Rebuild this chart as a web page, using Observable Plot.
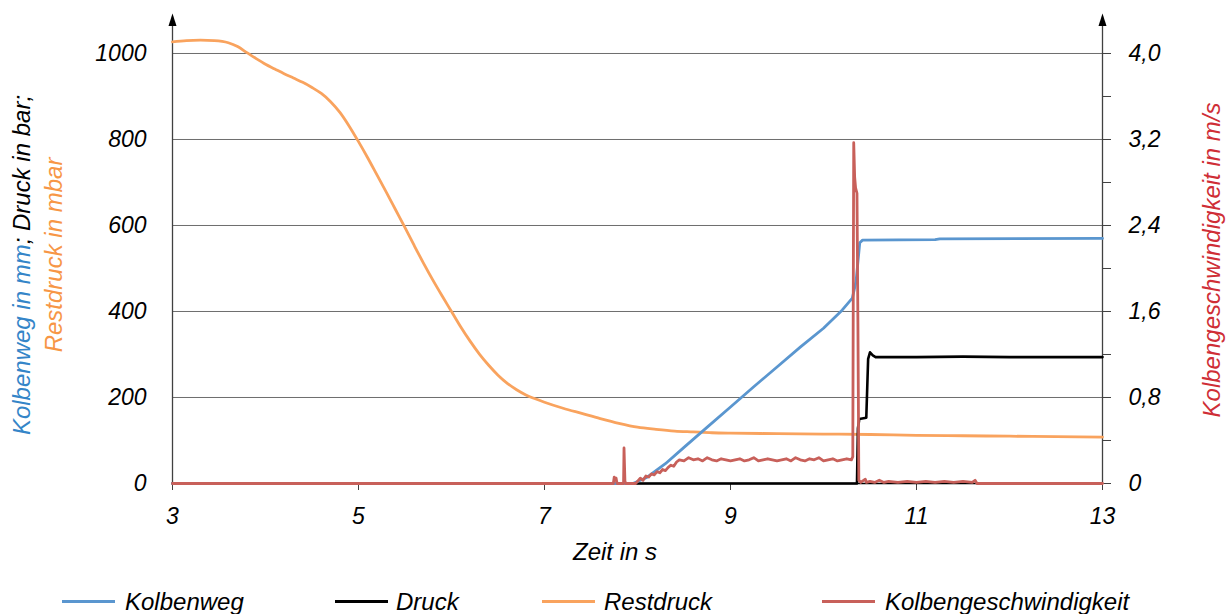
<!DOCTYPE html>
<html>
<head>
<meta charset="utf-8">
<script src="https://cdn.jsdelivr.net/npm/d3@7"></script>
<script src="https://cdn.jsdelivr.net/npm/@observablehq/plot@0.6"></script>
<style>
  body { margin: 0; background: #fff; }
  #wrap { position: relative; width: 1230px; height: 614px; font-family: "Liberation Sans", Arial, sans-serif; font-style: italic; }
  #chart { position: absolute; left: 0; top: 0; }
  .lg-line { position: absolute; height: 3px; top: 600px; }
  .lg-text { position: absolute; top: 589px; font-size: 24px; line-height: 26px; color: #000; white-space: nowrap; }
</style>
</head>
<body>
<div id="wrap">
  <div id="chart"></div>
  <div id="legend"></div>
</div>
<script>
// ---------- data ----------
const seriesNames = ["Kolbenweg", "Druck", "Restdruck", "Kolbengeschwindigkeit"];

// x ticks (Zeit in s)
const xTicks = [3, 5, 7, 9, 11, 13];
// left axis ticks (mm / bar / mbar)
const leftTicks = [0, 200, 400, 600, 800, 1000];
// right axis ticks (m/s)
const rightTicks = [0, 0.8, 1.6, 2.4, 3.2, 4.0];
const rightMinorTicks = [0.4, 1.2, 2.0, 2.8, 3.6];

// Restdruck in mbar
const restT = [3.0, 3.15, 3.3, 3.45, 3.6, 3.7, 3.8, 3.9, 4.0, 4.1, 4.2, 4.3, 4.4, 4.5, 4.6, 4.7, 4.8, 4.9, 5.0, 5.1, 5.2, 5.3, 5.4, 5.5, 5.6, 5.7, 5.8, 5.9, 6.0, 6.1, 6.2, 6.3, 6.4, 6.5, 6.6, 6.7, 6.8, 6.9, 7.0, 7.2, 7.4, 7.6, 7.8, 8.0, 8.2, 8.4, 8.6, 8.8, 9.0, 9.5, 10.0, 10.5, 11.0, 11.5, 12.0, 12.5, 13.0];
const restV = [1027, 1030, 1031, 1030, 1025, 1016, 1002, 988, 975, 964, 953, 943, 933, 921, 907, 888, 863, 831, 795, 757, 717, 677, 636, 595, 553, 512, 473, 436, 400, 364, 331, 301, 275, 252, 233, 218, 206, 197, 189, 175, 163, 151, 140, 131, 126, 122, 120, 118, 117, 116, 115, 114, 112, 111, 110, 109, 108];

// Kolbenweg in mm
const wegT = [3.0, 7.95, 8.1, 8.3, 8.5, 8.75, 9.0, 9.25, 9.5, 9.75, 10.0, 10.2, 10.31, 10.35, 10.39, 10.42, 11.2, 11.25, 13.0];
const wegV = [0, 0, 14, 46, 84, 131, 178, 225, 271, 317, 361, 403, 431, 470, 560, 566, 567, 569, 570];

// Druck in bar
const druckT = [3.0, 10.36, 10.37, 10.385, 10.46, 10.48, 10.5, 10.53, 10.56, 11.0, 11.5, 12.0, 13.0];
const druckV = [0, 0, 128, 150, 153, 290, 305, 298, 294, 294, 295, 294, 294];

// Kolbengeschwindigkeit in m/s
const velT = [3.0, 7.74, 7.75, 7.76, 7.77, 7.78, 7.85, 7.855, 7.865, 7.875, 7.98, 8.0, 8.03, 8.06, 8.09, 8.12, 8.15, 8.18, 8.21, 8.24, 8.27, 8.30, 8.33, 8.36, 8.39, 8.42, 8.45, 8.5, 8.55, 8.6, 8.65, 8.7, 8.75, 8.8, 8.85, 8.9, 8.95, 9.0, 9.05, 9.1, 9.15, 9.2, 9.25, 9.3, 9.35, 9.4, 9.45, 9.5, 9.55, 9.6, 9.65, 9.7, 9.75, 9.8, 9.85, 9.9, 9.95, 10.0, 10.05, 10.1, 10.15, 10.2, 10.25, 10.3, 10.315, 10.325, 10.335, 10.345, 10.36, 10.37, 10.38, 10.4, 10.45, 10.46, 10.5, 10.55, 10.6, 10.65, 10.7, 10.8, 10.9, 11.0, 11.1, 11.2, 11.3, 11.4, 11.5, 11.6, 11.63, 11.65, 12.0, 13.0];
const velV = [0, 0, 0.06, 0.03, 0.05, 0, 0, 0.33, 0.02, 0, 0, 0.02, 0.05, 0.03, 0.07, 0.06, 0.09, 0.08, 0.11, 0.10, 0.13, 0.12, 0.15, 0.17, 0.16, 0.20, 0.22, 0.21, 0.24, 0.22, 0.23, 0.21, 0.24, 0.22, 0.21, 0.23, 0.22, 0.21, 0.22, 0.23, 0.21, 0.22, 0.24, 0.21, 0.22, 0.23, 0.22, 0.21, 0.22, 0.23, 0.21, 0.24, 0.22, 0.21, 0.23, 0.22, 0.24, 0.21, 0.22, 0.23, 0.21, 0.22, 0.23, 0.22, 0.25, 3.17, 2.85, 2.75, 2.70, 1.5, 0.03, 0.01, 0.04, 0.01, 0.02, 0.01, 0.03, 0.01, 0.02, 0.01, 0.02, 0.01, 0.02, 0.01, 0.02, 0.01, 0.02, 0.01, 0.03, 0, 0, 0];

// ---------- styling ----------
const colors = { Kolbenweg: "#5a96cf", Druck: "#000000", Restdruck: "#f9a35e", Kolbengeschwindigkeit: "#c8605a" };
const velFactor = 250;      // 4,0 m/s on the right axis == 1000 on the left axis
const yMax = 1093;
const font = '"Liberation Sans", Arial, sans-serif';

const rows = (ts, vs) => ts.map((t, i) => ({ t, v: vs[i] }));
const restRows = rows(restT, restV);
const wegRows = rows(wegT, wegV);
const druckRows = rows(druckT, druckV);
const velRows = rows(velT, velV);

const fmtRight = v => v === 0 ? "0" : v.toFixed(1).replace(".", ",");

const arrowHead = {
  draw(ctx) {
    ctx.moveTo(0, 0);
    ctx.lineTo(4, 12.5);
    ctx.lineTo(-4, 12.5);
    ctx.closePath();
  }
};

const chart = Plot.plot({
  width: 1230,
  height: 575,
  marginLeft: 172,
  marginRight: 128,
  marginTop: 13,
  marginBottom: 92,
  x: { domain: [3, 13] },
  y: { domain: [0, yMax] },
  style: { fontFamily: font, fontSize: "23px", fontStyle: "italic", color: "#000", background: "#fff", overflow: "visible" },
  marks: [
    Plot.gridY(leftTicks.filter(d => d > 0), { stroke: "#6e6e6e", strokeOpacity: 1, strokeWidth: 1 }),
    Plot.axisY(leftTicks, { anchor: "left", tickSize: 0, tickPadding: 26, label: null, tickFormat: d => String(d), fontSize: 23 }),
    Plot.axisY(rightTicks.map(d => d * velFactor), { anchor: "right", tickSize: 8, tickPadding: 18, label: null, stroke: "#404040", tickFormat: d => fmtRight(d / velFactor), fontSize: 23 }),
    Plot.axisY(rightMinorTicks.map(d => d * velFactor), { anchor: "right", tickSize: 8, label: null, stroke: "#404040", tickFormat: () => "" }),
    Plot.axisX(xTicks, { tickSize: 7, tickPadding: 17, label: null, stroke: "#404040", tickFormat: d => String(d), fontSize: 23 }),
    Plot.ruleY([0], { stroke: "#000", strokeWidth: 1.5 }),
    Plot.ruleX([3, 13], { y1: 0, y2: yMax - 8, stroke: "#404040", strokeWidth: 1.3 }),
    Plot.dot([3, 13], { x: d => d, y: yMax, symbol: arrowHead, fill: "#000", stroke: null, r: 5 }),
    Plot.line(restRows, { x: "t", y: "v", stroke: colors.Restdruck, strokeWidth: 2.8, curve: "monotone-x" }),
    Plot.line(druckRows, { x: "t", y: "v", stroke: colors.Druck, strokeWidth: 2.6 }),
    Plot.line(wegRows, { x: "t", y: "v", stroke: colors.Kolbenweg, strokeWidth: 2.8 }),
    Plot.line(velRows, { x: "t", y: d => d.v * velFactor, stroke: colors.Kolbengeschwindigkeit, strokeWidth: 2.8 })
  ]
});
document.getElementById("chart").appendChild(chart);

// ---------- axis titles ----------
const svg = d3.select(chart);
const addRot = (x, y) => svg.append("text")
  .attr("transform", `translate(${x},${y}) rotate(-90)`)
  .attr("text-anchor", "middle")
  .attr("dy", "0.35em")
  .style("font-family", font).style("font-size", "24px").style("font-style", "italic");

const t1 = addRot(22, 265);
t1.append("tspan").attr("fill", "#3485c8").text("Kolbenweg in mm");
t1.append("tspan").attr("fill", "#000").text("; Druck in bar;");
addRot(54, 255).attr("fill", "#f79646").text("Restdruck in mbar");
addRot(1212, 260).attr("fill", "#cf2e36").text("Kolbengeschwindigkeit in m/s");
svg.append("text")
  .attr("x", 615).attr("y", 552).attr("dy", "0.35em")
  .attr("text-anchor", "middle")
  .style("font-family", font).style("font-size", "24px").style("font-style", "italic")
  .attr("fill", "#000").text("Zeit in s");

// ---------- legend ----------
const legendPos = [
  { line: 62, text: 125 },
  { line: 335, text: 396 },
  { line: 542, text: 604 },
  { line: 822, text: 885 }
];
const legend = document.getElementById("legend");
seriesNames.forEach((name, i) => {
  const l = document.createElement("div");
  l.className = "lg-line";
  l.style.left = legendPos[i].line + "px";
  l.style.width = "53px";
  l.style.background = colors[name];
  legend.appendChild(l);
  const t = document.createElement("div");
  t.className = "lg-text";
  t.style.left = legendPos[i].text + "px";
  t.textContent = name;
  legend.appendChild(t);
});
</script>
</body>
</html>
